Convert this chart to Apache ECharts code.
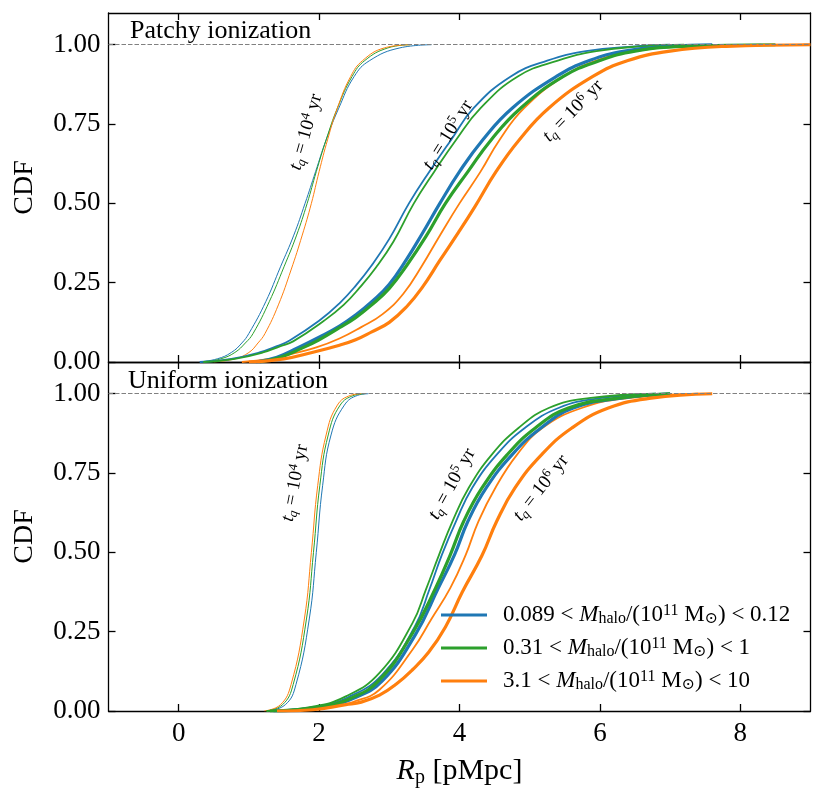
<!DOCTYPE html>
<html><head><meta charset="utf-8">
<script src="https://cdn.jsdelivr.net/npm/echarts@6/dist/echarts.min.js"></script>
<style>html,body{margin:0;padding:0;background:#fff}#c{width:831px;height:801px}</style>
</head><body><div id="c"></div>
<script>
// ---------------- data (x = R_p [pMpc], y = CDF) ----------------
const X_TICKS = [0, 2, 4, 6, 8];
const Y_TICKS = [0, 0.25, 0.5, 0.75, 1.0];
const MASS_NAMES = ['m1', 'm2', 'm3'];
const MASS_LABELS = [
  '{g| }0.089 < {it|M}{sub|halo}/(10{sup|11} M{sub|⊙}) < 0.12',
  '{g| }0.31 < {it|M}{sub|halo}/(10{sup|11} M{sub|⊙}) < 1',
  '{g| }3.1 < {it|M}{sub|halo}/(10{sup|11} M{sub|⊙}) < 10'
];
const TQ_EXP = ['4', '5', '6'];

// Patchy ionization
const P4_blue   = [[0.30,0],[0.55,0.01],[0.75,0.03],[0.90,0.06],[1.00,0.09],[1.24,0.19],[1.45,0.3],[1.64,0.4],[1.80,0.5],[1.95,0.6],[2.10,0.7],[2.28,0.8],[2.50,0.9],[2.72,0.95],[3.15,0.99],[3.60,1.0]];
const P4_green  = [[0.35,0],[0.60,0.01],[0.80,0.03],[0.95,0.06],[1.06,0.09],[1.29,0.19],[1.50,0.3],[1.68,0.4],[1.83,0.5],[1.96,0.6],[2.10,0.7],[2.26,0.8],[2.47,0.9],[2.65,0.95],[2.98,0.99],[3.30,1.0]];
const P4_orange = [[0.50,0],[0.80,0.01],[1.00,0.03],[1.13,0.06],[1.23,0.09],[1.42,0.18],[1.60,0.29],[1.76,0.4],[1.89,0.5],[2.00,0.6],[2.12,0.7],[2.26,0.8],[2.45,0.9],[2.62,0.95],[2.93,0.99],[3.30,1.0]];
const P5_blue   = [[0.30,0],[0.75,0.01],[1.15,0.03],[1.40,0.05],[1.58,0.068],[2.00,0.13],[2.29,0.185],[2.52,0.24],[2.75,0.305],[3.00,0.388],[3.28,0.5],[3.57,0.6],[3.88,0.7],[4.20,0.8],[4.73,0.9],[5.25,0.95],[5.80,0.98],[6.50,0.995],[7.00,1.0]];
const P5_green  = [[0.35,0],[0.80,0.01],[1.20,0.03],[1.45,0.05],[1.63,0.065],[2.07,0.13],[2.35,0.18],[2.58,0.235],[2.81,0.298],[3.06,0.38],[3.35,0.5],[3.64,0.6],[3.95,0.7],[4.30,0.8],[4.83,0.9],[5.40,0.95],[5.95,0.98],[6.60,0.995],[7.20,1.0]];
const P5_orange = [[0.90,0],[1.30,0.01],[1.60,0.025],[1.95,0.045],[2.29,0.074],[2.60,0.11],[2.90,0.15],[3.20,0.215],[3.47,0.305],[3.71,0.395],[4.00,0.5],[4.30,0.6],[4.57,0.7],[4.92,0.8],[5.48,0.9],[5.95,0.95],[6.50,0.98],[7.20,0.995],[8.30,1.0]];
const P6_blue   = [[1.10,0],[1.40,0.015],[1.70,0.045],[2.00,0.078],[2.29,0.113],[2.52,0.148],[2.75,0.19],[3.00,0.245],[3.25,0.325],[3.47,0.405],[3.72,0.5],[4.00,0.6],[4.33,0.7],[4.75,0.8],[5.38,0.9],[5.85,0.95],[6.35,0.98],[7.00,0.995],[7.60,1.0]];
const P6_green  = [[1.15,0],[1.45,0.015],[1.75,0.043],[2.00,0.07],[2.29,0.108],[2.52,0.14],[2.75,0.18],[3.00,0.232],[3.25,0.305],[3.52,0.395],[3.80,0.5],[4.12,0.6],[4.45,0.7],[4.87,0.8],[5.48,0.9],[6.00,0.95],[6.50,0.98],[7.20,0.995],[8.50,1.0]];
const P6_orange = [[1.00,0],[1.50,0.01],[1.90,0.03],[2.29,0.053],[2.52,0.07],[2.75,0.095],[3.00,0.125],[3.25,0.175],[3.47,0.235],[3.72,0.32],[3.99,0.41],[4.22,0.49],[4.52,0.6],[4.85,0.7],[5.27,0.8],[5.90,0.9],[6.40,0.95],[7.00,0.98],[7.80,0.995],[9.00,1.0]];

// Uniform ionization
const U4_blue   = [[1.26,0],[1.52,0.02],[1.67,0.083],[1.86,0.29],[1.96,0.5],[2.05,0.71],[2.17,0.87],[2.36,0.964],[2.55,0.995],[2.70,1.0]];
const U4_green  = [[1.24,0],[1.48,0.02],[1.63,0.083],[1.82,0.29],[1.92,0.5],[2.01,0.71],[2.13,0.87],[2.30,0.964],[2.50,0.995],[2.65,1.0]];
const U4_orange = [[1.22,0],[1.45,0.02],[1.60,0.083],[1.79,0.29],[1.89,0.5],[1.98,0.71],[2.10,0.87],[2.26,0.964],[2.45,0.995],[2.60,1.0]];
const U5_blue   = [[1.30,0],[1.95,0.013],[2.42,0.044],[2.90,0.115],[3.36,0.265],[3.57,0.382],[3.75,0.493],[3.95,0.598],[4.18,0.703],[4.53,0.808],[4.93,0.892],[5.41,0.955],[6.00,0.986],[6.80,1.0]];
const U5_green  = [[1.25,0],[1.91,0.014],[2.38,0.046],[2.86,0.12],[3.33,0.277],[3.52,0.382],[3.71,0.493],[3.90,0.598],[4.13,0.703],[4.46,0.808],[4.84,0.892],[5.27,0.955],[5.84,0.986],[6.80,1.0]];
const U5_orange = [[1.35,0],[2.10,0.01],[2.50,0.03],[2.86,0.067],[3.33,0.193],[3.60,0.29],[3.87,0.388],[4.09,0.493],[4.27,0.598],[4.51,0.703],[4.82,0.808],[5.18,0.892],[5.74,0.955],[6.40,0.986],[7.40,1.0]];
const U6_blue   = [[1.35,0],[2.04,0.012],[2.49,0.04],[2.90,0.095],[3.37,0.24],[3.70,0.388],[3.93,0.493],[4.12,0.598],[4.38,0.703],[4.75,0.808],[5.16,0.892],[5.62,0.955],[6.30,0.986],[7.00,1.0]];
const U6_green  = [[1.30,0],[2.00,0.012],[2.45,0.04],[2.86,0.098],[3.33,0.245],[3.66,0.388],[3.87,0.493],[4.06,0.598],[4.32,0.703],[4.68,0.808],[5.08,0.892],[5.55,0.955],[6.26,0.986],[7.00,1.0]];
const U6_orange = [[1.40,0],[1.91,0.004],[2.38,0.02],[2.60,0.028],[2.86,0.05],[3.10,0.085],[3.33,0.13],[3.56,0.185],[3.80,0.265],[4.04,0.375],[4.32,0.49],[4.53,0.598],[4.79,0.703],[5.17,0.808],[5.60,0.892],[6.12,0.955],[6.73,0.986],[7.60,1.0]];

// ---------------- styling ----------------
const FONT = '"Liberation Serif", "DejaVu Serif", serif';
const COLORS = ['#1f77b4', '#2ca02c', '#ff7f0e'];
const WIDTHS = [1, 1.8, 3.2];
const PANELS = [
  {xi: 0, yi: 0, curves: [[P4_blue, P4_green, P4_orange], [P5_blue, P5_green, P5_orange], [P6_blue, P6_green, P6_orange]]},
  {xi: 2, yi: 2, curves: [[U4_blue, U4_green, U4_orange], [U5_blue, U5_green, U5_orange], [U6_blue, U6_green, U6_orange]]}
];

const RICH = {
  it:  {fontFamily: FONT, fontStyle: 'italic', fontSize: 23, lineHeight: 24, color: '#000'},
  sub: {fontFamily: FONT, fontSize: 16, lineHeight: 14, verticalAlign: 'bottom', color: '#000'},
  sup: {fontFamily: FONT, fontSize: 16, lineHeight: 12, verticalAlign: 'top', color: '#000'},
  g:   {width: 11}
};
const RICH_LBL = {
  it:  {fontFamily: FONT, fontStyle: 'italic', fontSize: 19, lineHeight: 22, fill: '#000', color: '#000'},
  sub: {fontFamily: FONT, fontStyle: 'italic', fontSize: 13, lineHeight: 13, verticalAlign: 'bottom', fill: '#000', color: '#000'},
  sup: {fontFamily: FONT, fontSize: 13, lineHeight: 11, verticalAlign: 'top', fill: '#000', color: '#000'}
};

const axisLine = {show: true, onZero: false, lineStyle: {color: '#000', width: 1.3}};
function xAx(grid, pos, labels) {
  const a = {
    gridIndex: grid, type: 'value', min: -1, max: 9, position: pos,
    axisLine: axisLine,
    axisTick: {show: true, inside: true, length: 7, customValues: X_TICKS, lineStyle: {color: '#000', width: 1.3}},
    axisLabel: {show: labels, customValues: X_TICKS, margin: 9, fontFamily: FONT, fontSize: 27, color: '#000'},
    splitLine: {show: false}
  };
  if (labels) {
    a.name = '{it|R}{sub|p} [pMpc]';
    a.nameLocation = 'middle';
    a.nameGap = 43;
    a.nameTextStyle = {fontFamily: FONT, fontSize: 30, color: '#000', lineHeight: 34,
      rich: {it: {fontFamily: FONT, fontStyle: 'italic', fontSize: 30, lineHeight: 34, color: '#000'},
             sub: {fontFamily: FONT, fontSize: 20, lineHeight: 18, verticalAlign: 'bottom', color: '#000'}}};
  }
  return a;
}
function yAx(grid, pos, labels) {
  const a = {
    gridIndex: grid, type: 'value', min: 0, max: 1.1, position: pos,
    axisLine: axisLine,
    axisTick: {show: true, inside: true, length: 7, customValues: Y_TICKS, lineStyle: {color: '#000', width: 1.3}},
    axisLabel: {show: labels, customValues: Y_TICKS, margin: 8, fontFamily: FONT, fontSize: 27, color: '#000',
                formatter: v => Number(v).toFixed(2)},
    splitLine: {show: false}
  };
  if (labels) {
    a.name = 'CDF';
    a.nameLocation = 'middle';
    a.nameRotate = 90;
    a.nameGap = 70;
    a.nameTextStyle = {fontFamily: FONT, fontSize: 28, color: '#000'};
  }
  return a;
}

const series = [];
PANELS.forEach(p => {
  p.curves.forEach((group, t) => {
    group.forEach((data, m) => {
      series.push({
        type: 'line', name: MASS_NAMES[m], xAxisIndex: p.xi, yAxisIndex: p.yi,
        data: data, showSymbol: false, symbol: 'none', smooth: 0.45,
        lineStyle: {color: COLORS[m], width: WIDTHS[t]}, itemStyle: {color: COLORS[m]},
        z: 2, silent: true
      });
    });
  });
  series.push({
    type: 'line', name: 'ref', xAxisIndex: p.xi, yAxisIndex: p.yi, data: [], z: 5, silent: true,
    markLine: {silent: true, symbol: 'none', label: {show: false},
      lineStyle: {color: '#808080', type: [4.5, 2], width: 1.2}, data: [{yAxis: 1}]}
  });
});

function tqText(e) { return '{it|t}{sub|q} = 10{sup|' + e + '} yr'; }
function tqLabel(x, y, deg, e) {
  return {type: 'text', x: x, y: y, rotation: deg * Math.PI / 180, z: 10,
    style: {text: tqText(e), rich: RICH_LBL, fontFamily: FONT, fontSize: 19, fill: '#000',
            align: 'center', verticalAlign: 'middle'}};
}

const chart = echarts.init(document.getElementById('c'), null, {renderer: 'canvas'});
chart.setOption({
  animation: false,
  backgroundColor: '#fff',
  grid: [
    {left: 108.5, right: 20.5, top: 13, height: 349},
    {left: 108.5, right: 20.5, top: 362, height: 349}
  ],
  xAxis: [xAx(0, 'bottom', false), xAx(0, 'top', false), xAx(1, 'bottom', true), xAx(1, 'top', false)],
  yAxis: [yAx(0, 'left', true), yAx(0, 'right', false), yAx(1, 'left', true), yAx(1, 'right', false)],
  legend: {
    data: MASS_NAMES, orient: 'vertical', left: 436, top: 598,
    icon: 'rect', itemWidth: 46, itemHeight: 3, itemGap: 9,
    textStyle: {fontFamily: FONT, fontSize: 23, color: '#000', lineHeight: 24, rich: RICH},
    formatter: name => MASS_LABELS[MASS_NAMES.indexOf(name)],
    selectedMode: false
  },
  graphic: [
    {type: 'text', left: 130, top: 18, style: {text: 'Patchy ionization', fontFamily: FONT, fontSize: 26, fill: '#000'}},
    {type: 'text', left: 128, top: 368, style: {text: 'Uniform ionization', fontFamily: FONT, fontSize: 26, fill: '#000'}},
    tqLabel(306, 132, 74, TQ_EXP[0]),
    tqLabel(448, 135, 58, TQ_EXP[1]),
    tqLabel(573, 111, 46, TQ_EXP[2]),
    tqLabel(295, 483, 79, TQ_EXP[0]),
    tqLabel(452, 484, 61, TQ_EXP[1]),
    tqLabel(541, 488, 52, TQ_EXP[2])
  ],
  series: series
});
</script>
</body></html>
